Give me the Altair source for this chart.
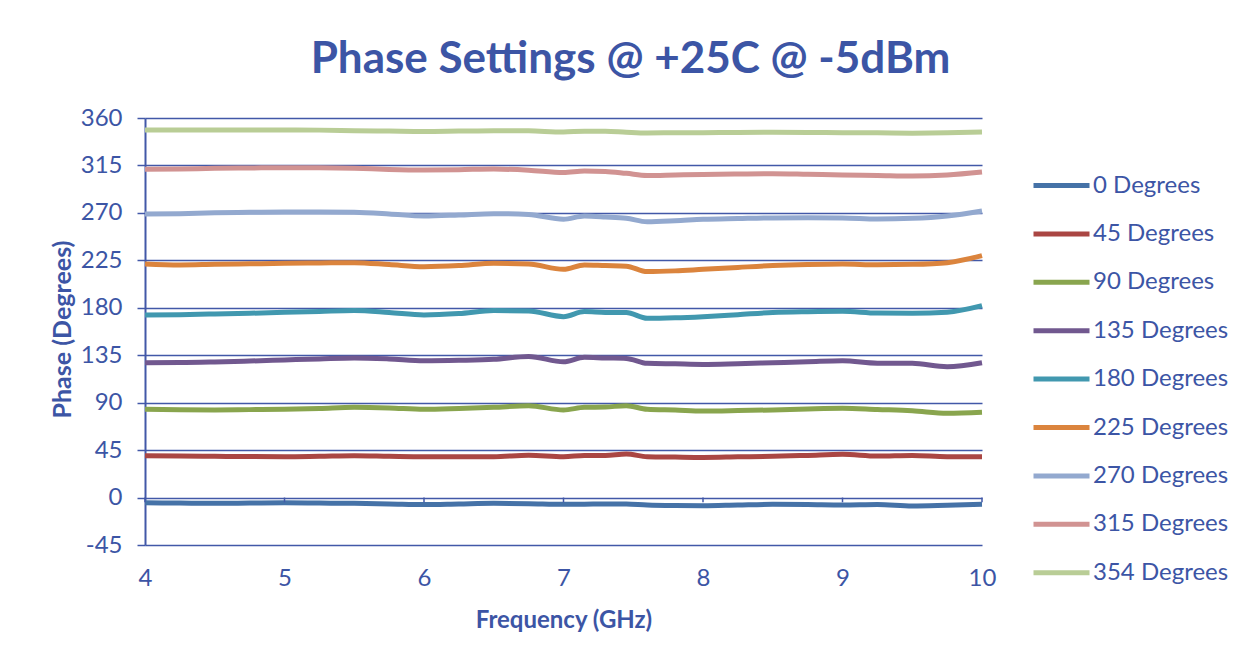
import altair as alt
import pandas as pd

freq = [4, 4.25, 4.5, 4.75, 5, 5.25, 5.5, 5.75, 6, 6.25, 6.5, 6.75, 7, 7.15, 7.3, 7.45,
        7.6, 7.8, 8, 8.25, 8.5, 8.75, 9, 9.25, 9.5, 9.75, 10]

deg0 = [-4.9, -5.2, -5.5, -5.2, -4.9, -5.2, -5.5, -6.0, -6.7, -6.1, -5.5, -5.8, -6.4, -6.3,
        -6.0, -6.2, -7.0, -7.5, -7.7, -7.0, -6.4, -6.6, -7.0, -6.5, -8.0, -7.3, -6.4]
deg45 = [39.7, 39.3, 39.1, 38.9, 38.8, 39.2, 39.7, 39.2, 38.8, 38.8, 38.8, 40.2, 38.8, 39.9,
         40.0, 41.3, 38.8, 38.4, 38.1, 38.6, 39.1, 40.0, 41.0, 39.4, 40.0, 38.8, 38.8]
deg90 = [83.7, 83.3, 83.1, 83.4, 83.7, 84.5, 85.6, 85.0, 83.7, 84.5, 85.6, 87.0, 83.1, 85.6,
         85.9, 87.1, 83.7, 83.0, 82.1, 82.5, 83.1, 84.0, 84.6, 83.5, 82.4, 79.9, 80.8]
deg135 = [127.9, 128.0, 128.6, 129.5, 130.5, 131.5, 132.4, 131.5, 129.8, 130.2, 131.1, 133.8,
          128.8, 133.0, 132.4, 132.0, 127.3, 126.8, 126.3, 127.0, 127.9, 128.8, 129.8, 127.5,
          127.3, 124.1, 127.9]
deg180 = [173.2, 173.5, 174.1, 174.8, 175.7, 176.5, 177.3, 175.5, 173.2, 174.5, 177.3, 177.0,
          171.6, 176.4, 175.6, 175.5, 170.0, 170.5, 171.6, 173.5, 175.5, 176.3, 176.7, 175.0,
          174.8, 175.8, 182.0]
deg225 = [221.5, 220.6, 221.2, 221.7, 222.2, 222.5, 222.8, 221.0, 219.0, 220.0, 222.2, 221.5,
          216.5, 220.6, 220.0, 219.5, 214.3, 215.0, 216.5, 218.3, 220.0, 221.0, 221.5, 220.8,
          221.2, 222.8, 229.4]
deg270 = [269.0, 269.3, 270.2, 270.5, 270.8, 270.8, 270.5, 269.0, 267.0, 268.0, 269.3, 268.5,
          264.0, 267.0, 266.2, 265.0, 261.6, 262.5, 263.9, 264.6, 265.2, 265.3, 265.2, 264.2,
          264.8, 267.0, 271.8]
deg315 = [311.3, 311.6, 312.3, 312.6, 312.9, 312.8, 312.3, 311.2, 310.7, 311.0, 311.6, 310.5,
          308.3, 309.7, 309.3, 307.5, 305.5, 306.0, 306.5, 306.9, 307.2, 306.6, 305.9, 305.5,
          305.0, 306.0, 308.8]
deg354 = [348.6, 348.6, 348.6, 348.7, 348.6, 348.5, 348.0, 347.6, 347.2, 347.6, 348.0, 347.8,
          346.8, 347.5, 347.5, 346.5, 345.8, 346.0, 346.1, 346.3, 346.4, 346.3, 346.0, 345.9,
          345.6, 345.9, 346.7]

series_names = ["0 Degrees", "45 Degrees", "90 Degrees", "135 Degrees", "180 Degrees",
                "225 Degrees", "270 Degrees", "315 Degrees", "354 Degrees"]
series_values = [deg0, deg45, deg90, deg135, deg180, deg225, deg270, deg315, deg354]
colors = ["#4572A7", "#AA4643", "#89A54E", "#71588F", "#4198AF", "#DB843D",
          "#93A9CF", "#D19392", "#B9CD96"]

y_ticks = [-45, 0, 45, 90, 135, 180, 225, 270, 315, 360]
x_ticks = [4, 5, 6, 7, 8, 9, 10]

rows = []
for name, vals in zip(series_names, series_values):
    for f, v in zip(freq, vals):
        rows.append({"freq": f, "phase": v, "series": name})
df = pd.DataFrame(rows)

tick_df = pd.DataFrame({"freq": x_ticks, "y0": [0] * len(x_ticks), "y1": [-4.5] * len(x_ticks)})

TXT = "#3C55A5"
GRID = "#4258A8"
FONT = "Lato"

xscale = alt.Scale(domain=[4, 10], nice=False, zero=False)
yscale = alt.Scale(domain=[-45, 360], nice=False, zero=False)

lines = alt.Chart(df).mark_line(strokeWidth=5, interpolate="monotone").encode(
    x=alt.X("freq:Q", scale=xscale,
            axis=alt.Axis(title="Frequency (GHz)", values=x_ticks, grid=False, domain=False,
                          ticks=False, labelPadding=21, labelFontSize=24, labelFont=FONT,
                          labelExpr="'' + datum.value", labelFlush=False,
                          labelColor=TXT, titleFont=FONT, titleFontSize=24, titleColor=TXT,
                          titleFontWeight="bold", titleY=75, titleBaseline="middle")),
    y=alt.Y("phase:Q", scale=yscale,
            axis=alt.Axis(title="Phase (Degrees)", values=y_ticks, grid=True, gridColor=GRID,
                          gridWidth=1.5, domain=True, domainColor=GRID, domainWidth=2,
                          ticks=True, tickColor=GRID, tickSize=8, tickWidth=1.5,
                          labelExpr="'' + datum.value", labelFlush=False,
                          labelPadding=15, labelFontSize=24, labelFont=FONT, labelColor=TXT,
                          titleFont=FONT, titleFontSize=25, titleColor=TXT,
                          titleFontWeight="bold", titleX=-83, titleY=211,
                          titleBaseline="middle", titleAngle=270)),
    color=alt.Color("series:N", scale=alt.Scale(domain=series_names, range=colors),
                    sort=series_names,
                    legend=alt.Legend(title=None, orient="none", legendX=900, legendY=51,
                                      symbolType="M-2,0H2", symbolSize=784,
                                      symbolStrokeWidth=5, labelFont=FONT, labelFontSize=24,
                                      labelColor=TXT, labelOffset=15, rowPadding=19.4,
                                      padding=0)),
)

ticks = alt.Chart(tick_df).mark_rule(color=GRID, strokeWidth=1.5).encode(
    x=alt.X("freq:Q", scale=xscale),
    y=alt.Y("y0:Q", scale=yscale),
    y2="y1:Q",
)

chart = alt.layer(lines, ticks).properties(
    width=837, height=427,
    title=alt.TitleParams("Phase Settings @ +25C @ -5dBm", font=FONT, fontSize=44,
                          fontWeight="bold", color=TXT, anchor="middle", frame="group",
                          dx=67, offset=24),
    autosize=alt.AutoSizeParams(type="none"),
    padding={"left": 137, "top": 110, "right": 250, "bottom": 100},
).configure_view(stroke="transparent")

chart.save("out.html", embed_options={"renderer": "svg", "actions": False})
